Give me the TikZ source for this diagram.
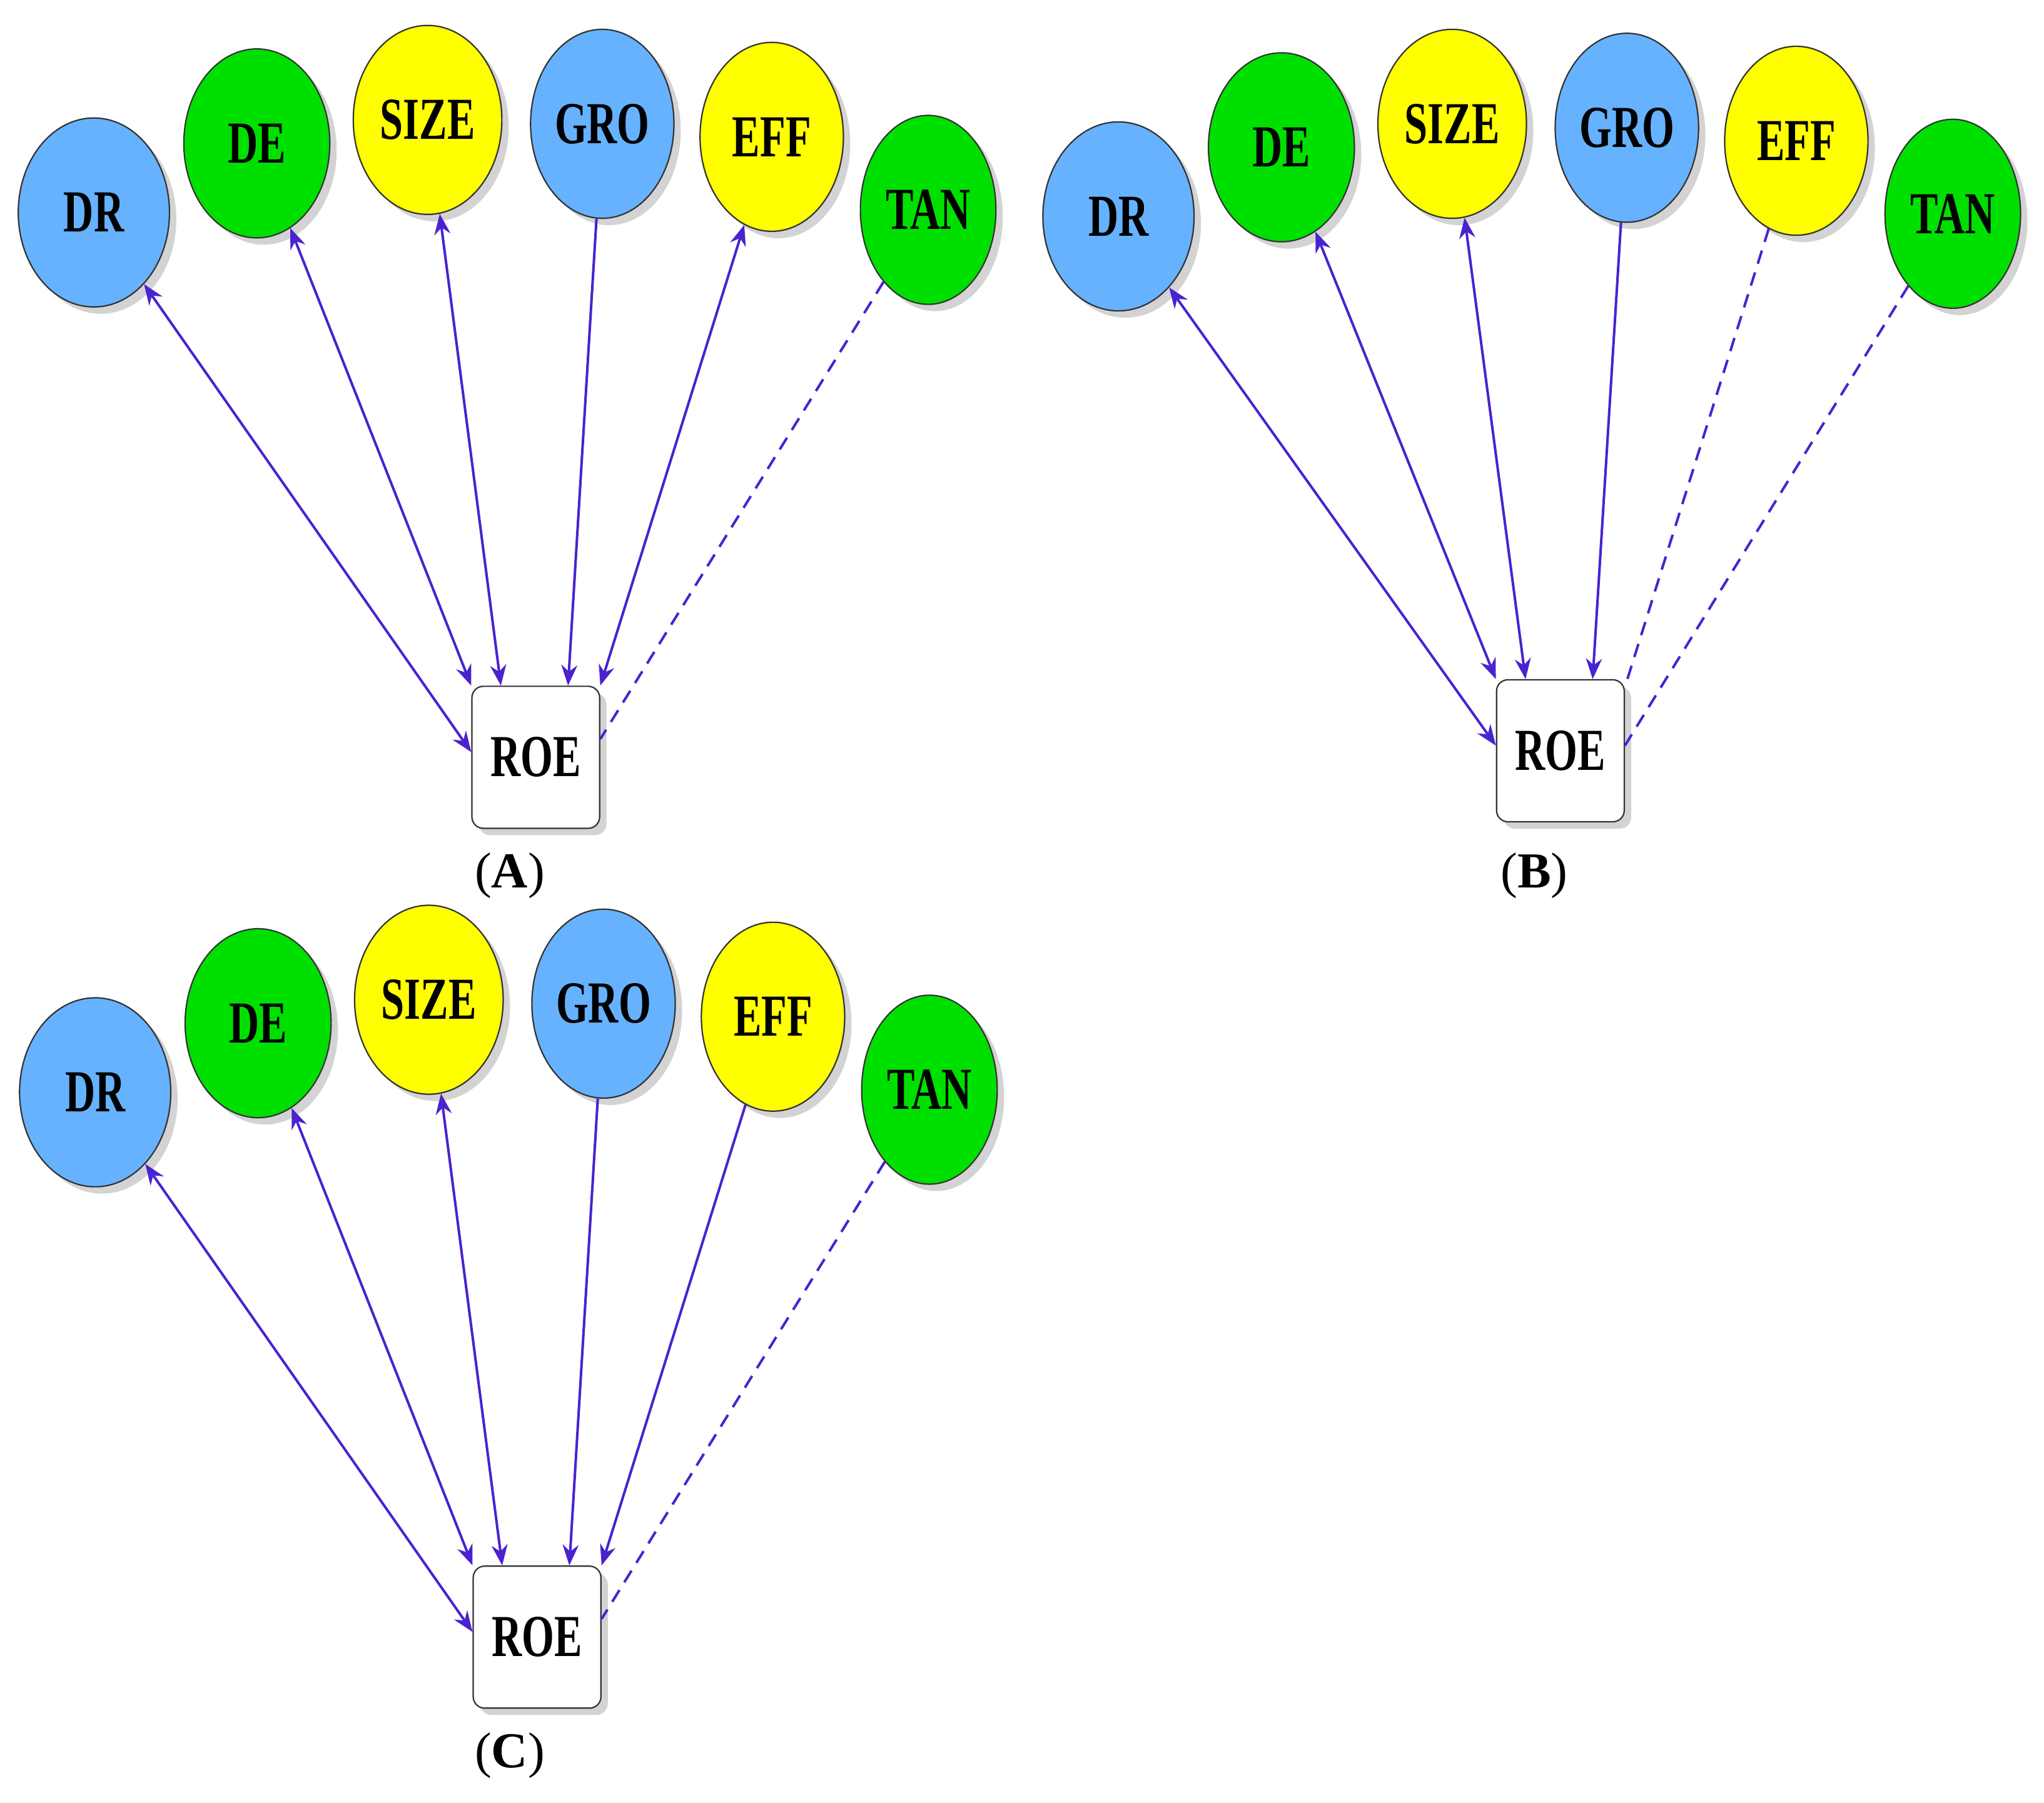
\documentclass[tikz,border=0pt]{standalone}
\usepackage{fontspec}
\setmainfont{Liberation Serif}
\newfontfamily\cond[FakeStretch=0.7]{Liberation Serif}
\usetikzlibrary{shapes.geometric,shadows,arrows.meta,calc}
\definecolor{cblue}{HTML}{66B2FF}
\definecolor{cgreen}{HTML}{00E000}
\definecolor{cyel}{HTML}{FFFF00}
\definecolor{arr}{HTML}{4A22D0}
\begin{document}
\begin{tikzpicture}[x=0.02cm,y=-0.02cm,
  el/.style={ellipse,draw=black!80,line width=0.6pt,minimum width=2.24cm,minimum height=2.9cm,inner sep=0pt,
    font=\cond\bfseries\fontsize{26}{26}\selectfont,drop shadow={shadow xshift=3pt,shadow yshift=-3pt,opacity=0.35}},
  roe/.style={draw=black!80,rounded corners=5pt,line width=0.6pt,fill=white,minimum width=1.96cm,minimum height=2.18cm,
    font=\cond\bfseries\fontsize{26}{26}\selectfont,drop shadow={shadow xshift=3pt,shadow yshift=-3pt,opacity=0.35}},
  lab/.style={font=\fontsize{22}{22}\selectfont},
  con/.style={arr,line width=1.1pt},
  two/.style={con,{Stealth[length=9pt,width=7pt]}-{Stealth[length=9pt,width=7pt]}},
  one/.style={con,-{Stealth[length=9pt,width=7pt]}},
  dsh/.style={con,dashed,dash pattern=on 6pt off 4pt}]
\useasboundingbox (0,0) rectangle (1568,1383);
\newcommand\mypanel[4]{%
\begin{scope}[shift={(#2,#3)}]
\node[el,fill=cblue,minimum width=2.32cm] (dr#1) at (72,163) {DR};
\node[el,fill=cgreen] (de#1) at (197,110) {DE};
\node[el,fill=cyel,minimum width=2.28cm] (size#1) at (328,92) {SIZE};
\node[el,fill=cblue,minimum width=2.2cm] (gro#1) at (462,95) {GRO};
\node[el,fill=cyel,minimum width=2.2cm] (eff#1) at (592,105) {EFF};
\node[el,fill=cgreen,minimum width=2.08cm] (tan#1) at (712,161) {TAN};
\node[roe] (roe#1) at (411,581+#4) {ROE};
\end{scope}}
\mypanel{a}{0}{0}{0}
\mypanel{b}{786}{3}{-8}
\mypanel{c}{1}{675}{0}
\node[lab] (la) at (391,672) {(\textbf{A})};
\node[lab] (lb) at (1177,672) {(\textbf{B})};
\node[lab] (lc) at (391,1347) {(\textbf{C})};
% A
\draw[two] (dra) -- ($(roea.west)+(0,-4)$);
\draw[two] (dea) -- (roea.north west);
\draw[two] (sizea) -- ($(roea.north west)!0.23!(roea.north east)$);
\draw[one] (groa) -- ($(roea.north west)!0.75!(roea.north east)$);
\draw[two] (effa) -- (roea.north east);
\draw[dsh] (tana) -- ($(roea.east)+(0,-14)$);
% B
\draw[two] (drb) -- ($(roeb.west)+(0,-4)$);
\draw[two] (deb) -- (roeb.north west);
\draw[two] (sizeb) -- ($(roeb.north west)!0.23!(roeb.north east)$);
\draw[one] (grob) -- ($(roeb.north west)!0.75!(roeb.north east)$);
\draw[dsh] (effb) -- ($(roeb.north east)+(0,6)$);
\draw[dsh] (tanb) -- ($(roeb.east)+(0,-4)$);
% C
\draw[two] (drc) -- ($(roec.west)+(0,-4)$);
\draw[two] (dec) -- (roec.north west);
\draw[two] (sizec) -- ($(roec.north west)!0.23!(roec.north east)$);
\draw[one] (groc) -- ($(roec.north west)!0.75!(roec.north east)$);
\draw[one] (effc) -- (roec.north east);
\draw[dsh] (tanc) -- ($(roec.east)+(0,-14)$);
\end{tikzpicture}
\end{document}
